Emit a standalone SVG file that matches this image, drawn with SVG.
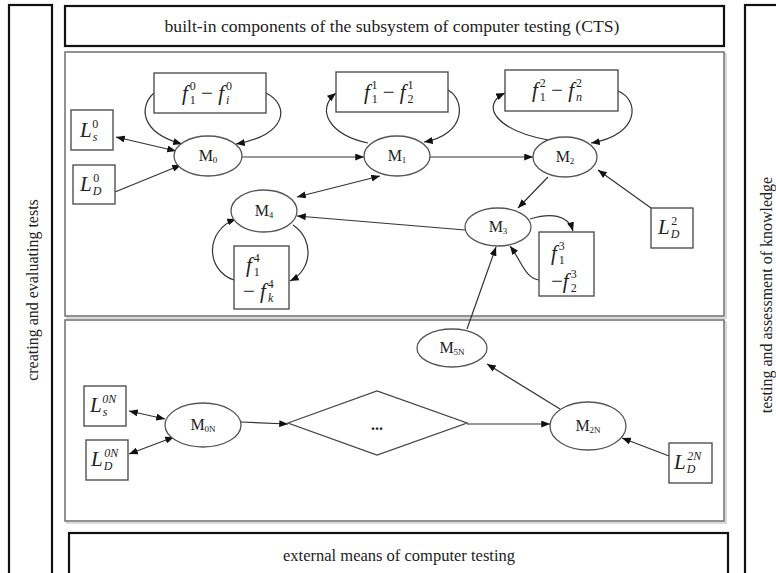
<svg xmlns="http://www.w3.org/2000/svg" width="776" height="573" viewBox="0 0 776 573">
<defs>
<marker id="ah" viewBox="0 0 10 8" refX="10" refY="4" markerWidth="9" markerHeight="7" orient="auto-start-reverse" markerUnits="userSpaceOnUse"><path d="M0,0 L10,4 L0,8 z" fill="#111"/></marker>
<style>
.frame{fill:#fff;stroke:#111;stroke-width:2.2}
.panel{fill:#fff;stroke:#777;stroke-width:1.6}
.shadow{fill:none;stroke:#ccc;stroke-width:1.5}
.box{fill:#fff;stroke:#444;stroke-width:1.3}
.ell{fill:#fff;stroke:#555;stroke-width:1.3}
.cap{font-family:"Liberation Serif",serif;font-size:17px;fill:#222;text-anchor:middle}
.side{font-family:"Liberation Serif",serif;font-size:16px;fill:#222;text-anchor:middle}
.math{font-family:"Liberation Serif",serif;font-size:21px;fill:#222}
.it{font-style:italic}
.sm{font-size:12px}
.ml{font-family:"Liberation Serif",serif;font-size:16px;fill:#222;text-anchor:middle}
.msub{font-size:9px}
#connectors path,#connectors line{fill:none;stroke:#333;stroke-width:1.2}
</style>
</defs>
<rect width="776" height="573" fill="#fff"/>

<g id="col-left"><rect class="frame" x="9" y="5" width="43" height="580"/>
<text class="side" transform="translate(38,290) rotate(-90)">creating and evaluating tests</text></g>
<g id="col-right"><rect class="frame" x="745" y="5" width="45" height="580"/>
<text class="side" transform="translate(772,295) rotate(-90)">testing and assessment of knowledge</text></g>
<g id="title"><rect class="frame" x="65" y="6" width="659" height="40"/>
<text class="cap" x="392" y="32" textLength="455" lengthAdjust="spacingAndGlyphs">built-in components of the subsystem of computer testing (CTS)</text></g>
<g id="panel-upper"><rect class="shadow" x="67" y="54" width="659" height="264"/><rect class="panel" x="65" y="52" width="659" height="264"/></g>
<g id="panel-lower"><rect class="shadow" x="67" y="322" width="659" height="201"/><rect class="panel" x="65" y="320" width="659" height="201"/></g>
<g id="external"><rect class="frame" x="69" y="533" width="659" height="50"/>
<text class="cap" x="399" y="561" textLength="232" lengthAdjust="spacingAndGlyphs">external means of computer testing</text></g>

<g id="connectors">
<line x1="116" y1="137" x2="176" y2="151" marker-start="url(#ah)" marker-end="url(#ah)"/>
<line x1="115" y1="192" x2="181" y2="165" marker-end="url(#ah)"/>
<path d="M154,93 C140,105 138,132 182,144" marker-end="url(#ah)"/>
<path d="M266,93 C290,105 288,135 236,144" marker-end="url(#ah)"/>
<line x1="242" y1="157" x2="364" y2="157" marker-end="url(#ah)"/>
<path d="M368,143 C330,135 315,110 336,93" marker-end="url(#ah)"/>
<path d="M448,90 C466,100 466,135 424,142" marker-end="url(#ah)"/>
<line x1="430" y1="157" x2="533" y2="157" marker-end="url(#ah)"/>
<path d="M548,140 C495,130 480,105 505,93" marker-end="url(#ah)"/>
<path d="M618,91 C640,100 640,135 591,143" marker-end="url(#ah)"/>
<line x1="651" y1="208" x2="598" y2="170" marker-end="url(#ah)"/>
<line x1="548" y1="177" x2="518" y2="208" marker-end="url(#ah)"/>
<line x1="380" y1="176" x2="297" y2="197" marker-start="url(#ah)" marker-end="url(#ah)"/>
<line x1="465" y1="230" x2="297" y2="216" marker-end="url(#ah)"/>
<path d="M293,225 C315,240 312,270 290,281" marker-end="url(#ah)"/>
<path d="M234,280 C205,270 205,230 236,219" marker-end="url(#ah)"/>
<path d="M530,219 C550,213 568,214 573,231" marker-end="url(#ah)"/>
<path d="M539,280 C525,278 522,262 510,246" marker-end="url(#ah)"/>
<line x1="467" y1="329" x2="496" y2="247" marker-end="url(#ah)"/>
<line x1="560" y1="409" x2="487" y2="364" marker-end="url(#ah)"/>
<line x1="241" y1="422" x2="288" y2="424" marker-end="url(#ah)"/>
<line x1="467" y1="424" x2="550" y2="424" marker-end="url(#ah)"/>
<line x1="129" y1="411" x2="165" y2="419" marker-start="url(#ah)" marker-end="url(#ah)"/>
<line x1="129" y1="454" x2="174" y2="437" marker-start="url(#ah)" marker-end="url(#ah)"/>
<line x1="669" y1="456" x2="622" y2="438" marker-end="url(#ah)"/>
</g>

<g id="f0"><rect class="box" x="154" y="73" width="112" height="40"/>
<text class="math" x="182" y="100"><tspan class="it">f</tspan><tspan class="sm" dx="2" dy="4">1</tspan><tspan class="sm" dx="-6" dy="-14">0</tspan><tspan dy="10"> − </tspan><tspan class="it">f</tspan><tspan class="sm it" dx="2" dy="4">i</tspan><tspan class="sm" dx="-3.5" dy="-14">0</tspan></text></g>
<g id="f1"><rect class="box" x="336" y="72" width="112" height="40"/>
<text class="math" x="364" y="99"><tspan class="it">f</tspan><tspan class="sm" dx="2" dy="4">1</tspan><tspan class="sm" dx="-6" dy="-14">1</tspan><tspan dy="10"> − </tspan><tspan class="it">f</tspan><tspan class="sm" dx="2" dy="4">2</tspan><tspan class="sm" dx="-6" dy="-14">1</tspan></text></g>
<g id="f2"><rect class="box" x="505" y="70" width="113" height="41"/>
<text class="math" x="532" y="97"><tspan class="it">f</tspan><tspan class="sm" dx="2" dy="4">1</tspan><tspan class="sm" dx="-6" dy="-14">2</tspan><tspan dy="10"> − </tspan><tspan class="it">f</tspan><tspan class="sm it" dx="2" dy="4">n</tspan><tspan class="sm" dx="-6" dy="-14">2</tspan></text></g>
<g id="f3"><rect class="box" x="539" y="232" width="55" height="64"/>
<text class="math" x="551" y="260"><tspan class="it">f</tspan><tspan class="sm" dx="2" dy="4">1</tspan><tspan class="sm" dx="-6" dy="-14">3</tspan></text>
<text class="math" x="551" y="288"><tspan>−</tspan><tspan class="it">f</tspan><tspan class="sm" dx="2" dy="4">2</tspan><tspan class="sm" dx="-6" dy="-14">3</tspan></text></g>
<g id="f4"><rect class="box" x="234" y="246" width="55" height="63"/>
<text class="math" x="246" y="272"><tspan class="it">f</tspan><tspan class="sm" dx="2" dy="4">1</tspan><tspan class="sm" dx="-6" dy="-14">4</tspan></text>
<text class="math" x="243" y="298"><tspan>−</tspan><tspan class="it"> f</tspan><tspan class="sm it" dx="2" dy="4">k</tspan><tspan class="sm" dx="-5.5" dy="-14">4</tspan></text></g>

<g id="Ls0"><rect class="box" x="71" y="110" width="42" height="40"/>
<text class="math" x="80" y="137" font-size="19"><tspan class="it">L</tspan><tspan class="sm it" dx="1" dy="4">s</tspan><tspan class="sm" dx="-5" dy="-13">0</tspan></text></g>
<g id="LD0"><rect class="box" x="73" y="165" width="42" height="39"/>
<text class="math" x="80" y="191" font-size="19"><tspan class="it">L</tspan><tspan class="sm it" dx="1" dy="4">D</tspan><tspan class="sm" dx="-8" dy="-13">0</tspan></text></g>
<g id="LD2"><rect class="box" x="651" y="208" width="42" height="40"/>
<text class="math" x="658" y="234" font-size="19"><tspan class="it">L</tspan><tspan class="sm it" dx="1" dy="4">D</tspan><tspan class="sm" dx="-8" dy="-13">2</tspan></text></g>
<g id="Ls0N"><rect class="box" x="84" y="386" width="42" height="40"/>
<text class="math" x="90" y="412" font-size="19"><tspan class="it">L</tspan><tspan class="sm it" dx="1" dy="4">s</tspan><tspan class="sm it" dx="-5" dy="-13">0N</tspan></text></g>
<g id="LD0N"><rect class="box" x="86" y="440" width="42" height="40"/>
<text class="math" x="91" y="466" font-size="19"><tspan class="it">L</tspan><tspan class="sm it" dx="1" dy="4">D</tspan><tspan class="sm it" dx="-8" dy="-13">0N</tspan></text></g>
<g id="LD2N"><rect class="box" x="669" y="443" width="43" height="40"/>
<text class="math" x="674" y="469" font-size="19"><tspan class="it">L</tspan><tspan class="sm it" dx="1" dy="4">D</tspan><tspan class="sm it" dx="-8" dy="-13">2N</tspan></text></g>

<g id="M0"><ellipse class="ell" cx="208" cy="156" rx="34" ry="20"/><text class="ml" x="208" y="161">M<tspan class="msub" dy="2">0</tspan></text></g>
<g id="M1"><ellipse class="ell" cx="397" cy="156" rx="33" ry="20"/><text class="ml" x="397" y="161">M<tspan class="msub" dy="2">1</tspan></text></g>
<g id="M2"><ellipse class="ell" cx="565" cy="157" rx="32" ry="20"/><text class="ml" x="565" y="162">M<tspan class="msub" dy="2">2</tspan></text></g>
<g id="M3"><ellipse class="ell" cx="498" cy="227" rx="33" ry="19"/><text class="ml" x="498" y="232">M<tspan class="msub" dy="2">3</tspan></text></g>
<g id="M4"><ellipse class="ell" cx="264" cy="211" rx="33" ry="21"/><text class="ml" x="264" y="216">M<tspan class="msub" dy="2">4</tspan></text></g>
<g id="M5N"><ellipse class="ell" cx="452" cy="348" rx="35" ry="19"/><text class="ml" x="452" y="353">M<tspan class="msub" dy="2">5N</tspan></text></g>
<g id="M0N"><ellipse class="ell" cx="203" cy="425" rx="38" ry="22"/><text class="ml" x="203" y="430">M<tspan class="msub" dy="2">0N</tspan></text></g>
<g id="M2N"><ellipse class="ell" cx="588" cy="426" rx="38" ry="24"/><text class="ml" x="588" y="431">M<tspan class="msub" dy="2">2N</tspan></text></g>
<g id="dots"><polygon class="box" points="288,423 377,391 467,423 377,455"/><text class="ml" x="377" y="430" font-weight="bold">...</text></g>
</svg>
